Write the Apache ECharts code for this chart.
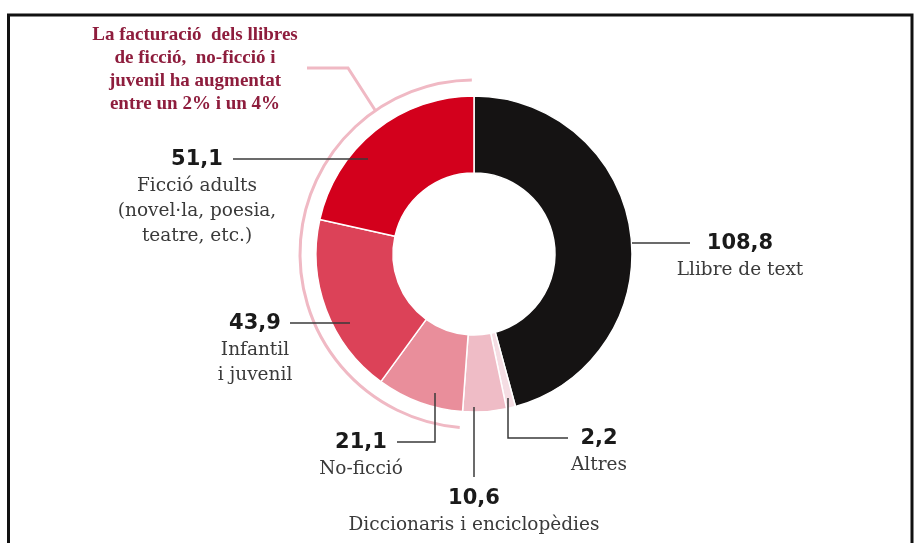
<!DOCTYPE html>
<html>
<head>
<meta charset="utf-8">
<script src="https://cdn.jsdelivr.net/npm/echarts@6/dist/echarts.min.js"></script>
<style>
  html, body { margin: 0; padding: 0; background: #fff; }
  #chart { width: 915px; height: 543px; }
</style>
</head>
<body>
<div id="chart"></div>
<script>
// facturació per tipus de llibre (milions d'euros), en ordre horari des de dalt
const categories = [
  'Llibre de text',
  'Altres',
  'Diccionaris i enciclopèdies',
  'No-ficció',
  'Infantil\ni juvenil',
  'Ficció adults\n(novel·la, poesia,\nteatre, etc.)'
];
const values = [108.8, 2.2, 10.6, 21.1, 43.9, 51.1];
const colors = ['#151313', '#f5dde3', '#efbcc6', '#e98e9b', '#dc4258', '#d3001c'];

const noteLines = [
  'La facturació  dels llibres',
  'de ficció,  no-ficció i',
  'juvenil ha augmentat',
  'entre un 2% i un 4%'
];

// on va cada etiqueta i la seva línia guia
const labelSpots = [
  { x: 740, y: 230, line: [[632, 243], [690, 243]] },
  { x: 599, y: 425, line: [[508, 398], [508, 438], [568, 438]] },
  { x: 474, y: 485, line: [[474, 407], [474, 477]] },
  { x: 361, y: 429, line: [[435, 393], [435, 442], [397, 442]] },
  { x: 255, y: 310, line: [[350, 323], [290, 323]] },
  { x: 197, y: 146, line: [[368, 159], [233, 159]] }
];

const cx = 474, cy = 254;

const chart = echarts.init(document.getElementById('chart'));

const fmt = v => v.toFixed(1).replace('.', ',');

chart.setOption({
  animation: false,
  series: [{
    type: 'pie',
    center: [cx, cy],
    radius: [81, 158],
    startAngle: 90,
    clockwise: true,
    avoidLabelOverlap: false,
    data: values.map((v, i) => ({
      name: categories[i],
      value: v,
      itemStyle: { color: colors[i] }
    })),
    itemStyle: { borderColor: '#fff', borderWidth: 1.5 },
    label: {
      show: true,
      position: 'outside',
      formatter: p => '{v|' + fmt(p.value) + '}\n{n|' + p.name + '}',
      rich: {
        v: { fontFamily: 'DejaVu Sans', fontWeight: 'bold', fontSize: 21, color: '#1a1a1a', lineHeight: 28, align: 'center' },
        n: { fontFamily: 'DejaVu Serif', fontSize: 18.5, color: '#3a3a3a', lineHeight: 25, align: 'center' }
      }
    },
    labelLine: { show: false },
    labelLayout: p => {
      const s = labelSpots[p.dataIndex];
      return { x: s.x, y: s.y, align: 'center', verticalAlign: 'top' };
    },
    emphasis: { disabled: true }
  }],
  graphic: [
    // marc
    { type: 'polyline', shape: { points: [[8.5, 543], [8.5, 15], [912, 15], [912, 543]] },
      style: { stroke: '#111', lineWidth: 3, fill: null }, silent: true },
    // arc que agrupa ficció, no-ficció i juvenil
    { type: 'arc', shape: { cx: cx, cy: cy, r: 174, startAngle: 1.653, endAngle: 4.70, clockwise: true },
      style: { stroke: '#f0b9c4', lineWidth: 3, fill: null }, silent: true },
    { type: 'polyline', shape: { points: [[307, 68], [348, 68], [375, 110]] },
      style: { stroke: '#f0b9c4', lineWidth: 3, fill: null }, silent: true },
    {
      type: 'text', x: 195, y: 24, silent: true,
      style: {
        text: noteLines.join('\n'), align: 'center',
        fontFamily: 'Liberation Serif', fontWeight: 'bold', fontSize: 19,
        lineHeight: 23, fill: '#8e1d3d'
      }
    },
    // líneas guia de les etiquetes, per sobre dels sectors
    ...labelSpots.map(s => ({
      type: 'polyline', z: 100, silent: true,
      shape: { points: s.line },
      style: { stroke: '#3a3a3a', lineWidth: 1.5, fill: null }
    }))
  ]
});
</script>
</body>
</html>
